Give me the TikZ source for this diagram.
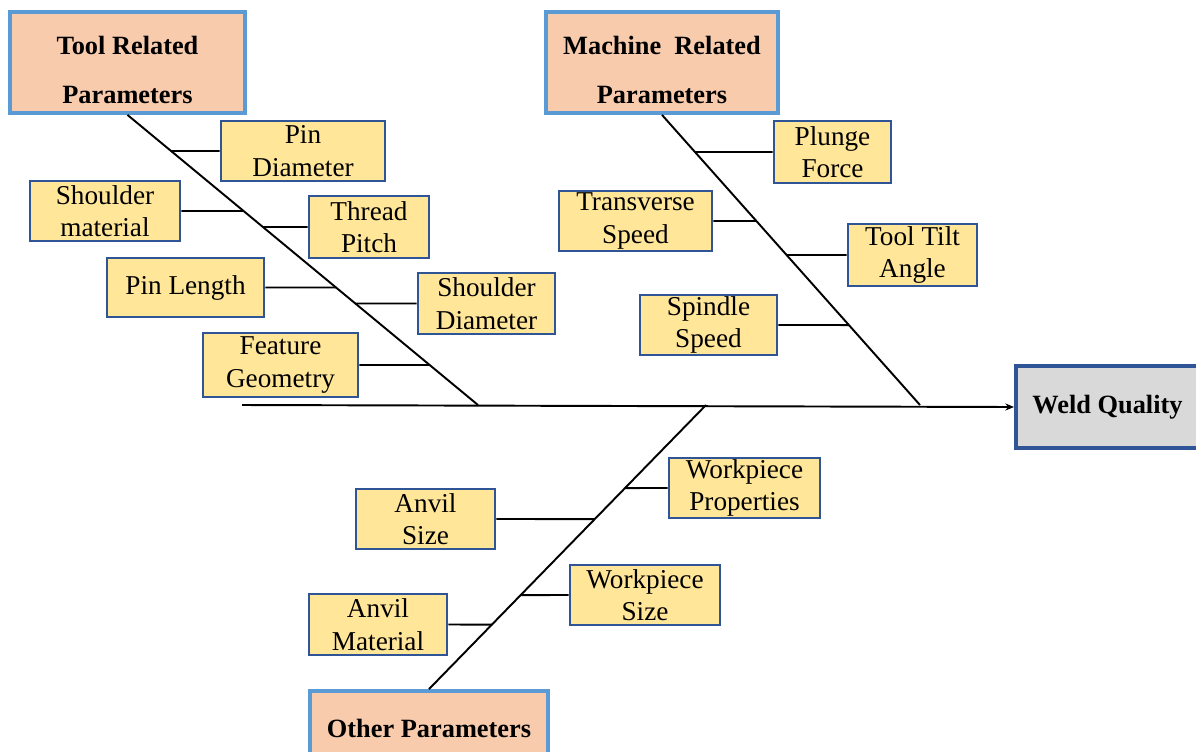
\documentclass[tikz,border=0pt]{standalone}
\usepackage{fontspec}
\setmainfont{Liberation Serif}
\usetikzlibrary{arrows.meta}
\definecolor{catfill}{HTML}{F8CBAD}
\definecolor{catline}{HTML}{5B9BD5}
\definecolor{causefill}{HTML}{FFE699}
\definecolor{causeline}{HTML}{2F5597}
\definecolor{effectfill}{HTML}{D9D9D9}

\begin{document}
\begin{tikzpicture}[x=0.02cm,y=-0.02cm,
	cat/.style={draw=catline, line width=2.2pt, fill=catfill, font=\bfseries\fontsize{15}{28}\selectfont, align=center, inner sep=0pt},
	cause/.style={draw=causeline, line width=1.6pt, fill=causefill, font=\fontsize{15.5}{18.5}\selectfont, align=center, inner sep=0pt},
	bone/.style={line width=1.1pt}]
	\clip (0,0) rectangle (1196,751);
	\fill[white] (0,0) rectangle (1196,751);
	
	\coordinate (spine) at (242,405);
	\coordinate (t1) at (478,405);
	\coordinate (m1) at (920,405);
	\coordinate (o1) at (706,405);
	
	\node[cat, text height=47pt, minimum width=4.7cm, minimum height=2.02cm] (tool) at (127.5,62.5) {Tool Related\\Parameters};
	\node[cat, text height=47pt, minimum width=4.64cm, minimum height=2.02cm] (machine) at (662,62.5) {Machine \ Related\\Parameters};
	\node[cat, minimum width=4.76cm, minimum height=1.48cm] (other) at (429,728) {Other Parameters};
	\node[cat, draw=causeline, fill=effectfill, minimum width=3.66cm, minimum height=1.64cm] (weld) at (1107.5,407) {Weld Quality};
	
	\draw[bone, -{Stealth[length=5pt,width=4pt]}] (spine) -- (weld.west);
	\draw[bone] (tool.south) -- (t1);
	\draw[bone] (machine.south) -- (m1);
	\draw[bone] (other.north) -- (o1);
	
	\node[cause, minimum width=3.28cm, minimum height=1.2cm] (pd) at (303,151) {Pin\\Diameter};
	\node[cause, minimum width=3.0cm, minimum height=1.2cm] (sm) at (105,211) {Shoulder\\material};
	\node[cause, minimum width=2.4cm, minimum height=1.24cm] (tp) at (369,227) {Thread\\Pitch};
	\node[cause, minimum width=3.14cm, minimum height=1.18cm] (pl) at (185.5,287.5) {Pin Length};
	\node[cause, minimum width=2.74cm, minimum height=1.22cm] (sd) at (486.5,303.5) {Shoulder\\Diameter};
	\node[cause, minimum width=3.1cm, minimum height=1.28cm] (fg) at (280.5,365) {Feature\\Geometry};
	
	\node[cause, minimum width=2.34cm, minimum height=1.24cm] (pf) at (832.5,152) {Plunge\\Force};
	\node[cause, minimum width=3.06cm, minimum height=1.2cm] (ts) at (635.5,221) {Transverse\\Speed};
	\node[cause, minimum width=2.58cm, minimum height=1.24cm] (ta) at (912.5,255) {Tool Tilt\\Angle};
	\node[cause, minimum width=2.74cm, minimum height=1.2cm] (ss) at (708.5,325) {Spindle\\Speed};
	
	\node[cause, minimum width=3.02cm, minimum height=1.2cm] (wp) at (744.5,488) {Workpiece\\Properties};
	\node[cause, minimum width=2.78cm, minimum height=1.2cm] (as) at (425.5,519) {Anvil\\Size};
	\node[cause, minimum width=3.0cm, minimum height=1.2cm] (ws) at (645,595) {Workpiece\\Size};
	\node[cause, minimum width=2.76cm, minimum height=1.22cm] (am) at (378,624.5) {Anvil\\Material};
	
	\draw[bone] (pd.west) -- (intersection of tool.south--t1 and pd.west--pd.east);
	\draw[bone] (sm.east) -- (intersection of tool.south--t1 and sm.west--sm.east);
	\draw[bone] (tp.west) -- (intersection of tool.south--t1 and tp.west--tp.east);
	\draw[bone] (pl.east) -- (intersection of tool.south--t1 and pl.west--pl.east);
	\draw[bone] (sd.west) -- (intersection of tool.south--t1 and sd.west--sd.east);
	\draw[bone] (fg.east) -- (intersection of tool.south--t1 and fg.west--fg.east);
	
	\draw[bone] (pf.west) -- (intersection of machine.south--m1 and pf.west--pf.east);
	\draw[bone] (ts.east) -- (intersection of machine.south--m1 and ts.west--ts.east);
	\draw[bone] (ta.west) -- (intersection of machine.south--m1 and ta.west--ta.east);
	\draw[bone] (ss.east) -- (intersection of machine.south--m1 and ss.west--ss.east);
	
	\draw[bone] (wp.west) -- (intersection of other.north--o1 and wp.west--wp.east);
	\draw[bone] (as.east) -- (intersection of other.north--o1 and as.west--as.east);
	\draw[bone] (ws.west) -- (intersection of other.north--o1 and ws.west--ws.east);
	\draw[bone] (am.east) -- (intersection of other.north--o1 and am.west--am.east);
\end{tikzpicture}
\end{document}
